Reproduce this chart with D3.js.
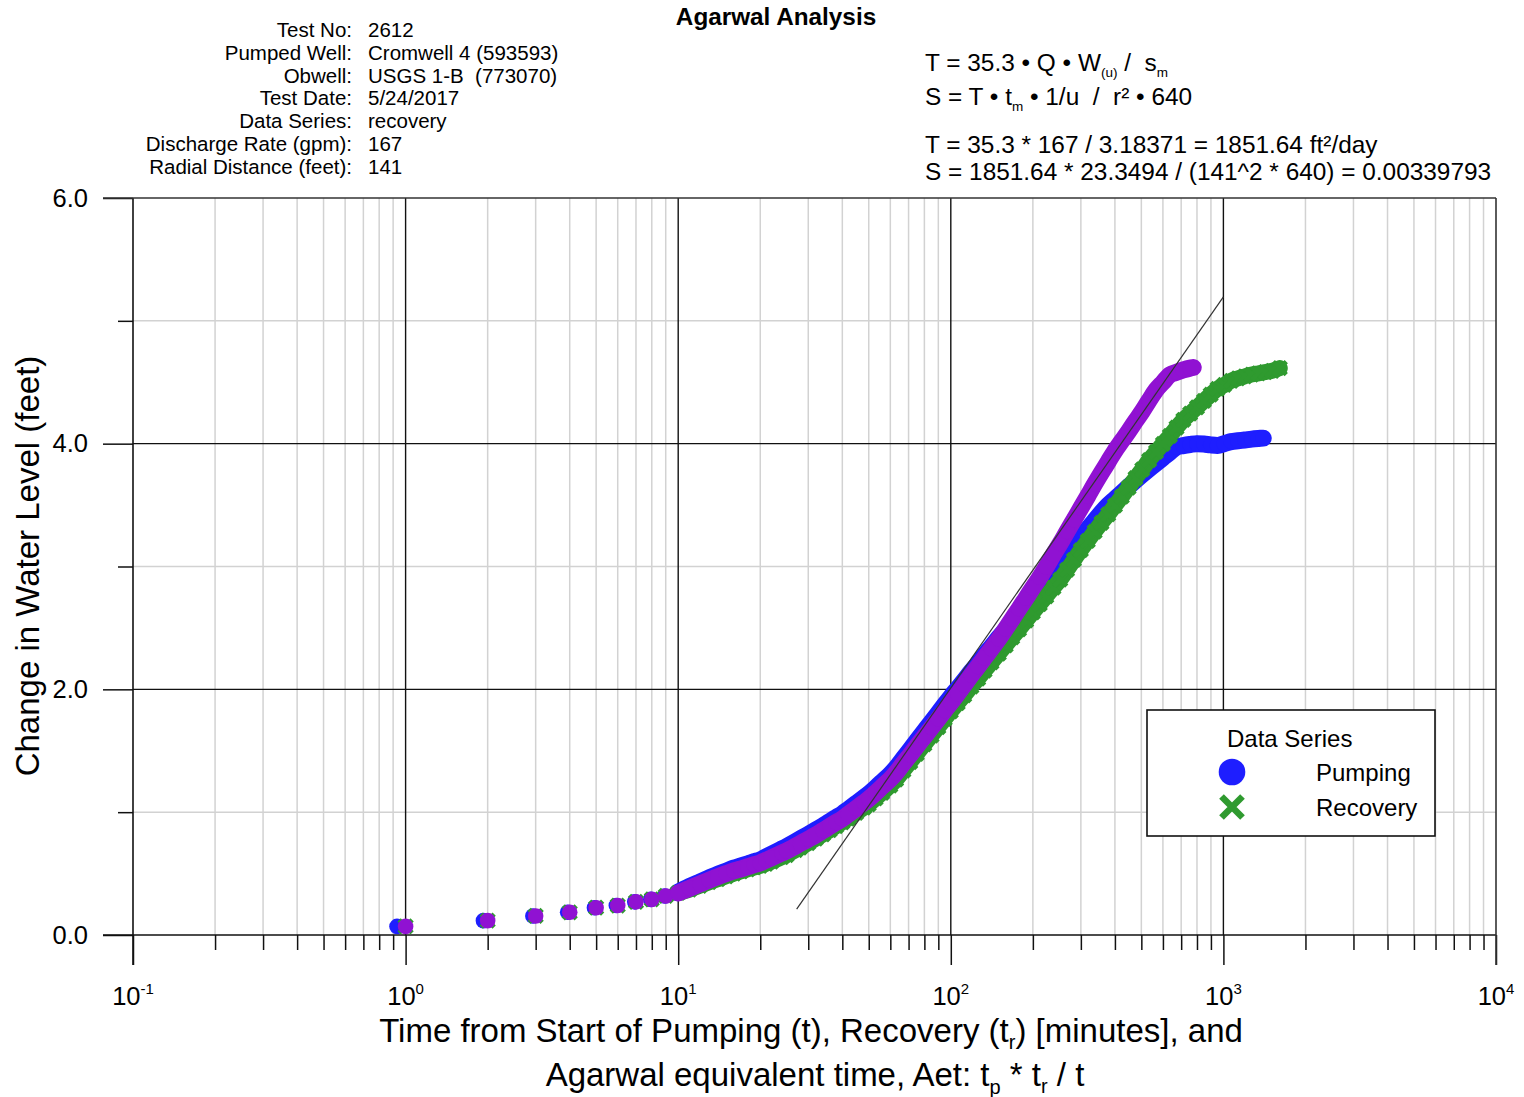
<!DOCTYPE html>
<html>
<head>
<meta charset="utf-8">
<title>Agarwal Analysis</title>
<script src="https://cdn.jsdelivr.net/npm/d3@7"></script>
<style>
  body { margin: 0; background: #fff; }
  svg { display: block; font-family: "Liberation Sans", Arial, Helvetica, sans-serif; }
  .pre { white-space: pre; }
</style>
</head>
<body>
<svg id="chart" width="1524" height="1097"></svg>
<script>
// ---------------- test information ----------------
const infoLabels = ["Test No:", "Pumped Well:", "Obwell:", "Test Date:", "Data Series:",
                    "Discharge Rate (gpm):", "Radial Distance (feet):"];
const infoValues = ["2612", "Cromwell 4 (593593)", "USGS 1-B  (773070)", "5/24/2017",
                    "recovery", "167", "141"];

// ---------------- straight-line fit (Cooper-Jacob style) ----------------
const slopePerLogCycle = 3.18371;   // ft of change per log cycle
const zeroInterceptTime = 23.3494;  // minutes, where the fitted line crosses 0
const fitLineRange = [27.2, 1000];  // minutes spanned by the drawn line

// readings become continuous (one per minute) from this time on
const continuousFrom = 9.9;

// ---------------- pumping phase: drawdown vs time ----------------
const pumpMinutes = [0.93, 1.93, 2.93, 3.93, 4.93, 5.93, 6.93, 7.93, 8.93, 9.93,
  11, 12, 13, 14, 15, 16, 17, 18, 19, 20, 21, 22, 24, 25, 27, 28, 30, 32, 34, 36, 38, 40,
  42, 45, 48, 50, 53, 56, 60, 63, 67, 71, 75, 80, 85, 90, 95, 100, 106, 112, 119, 126,
  133, 141, 150, 159, 168, 178, 189, 200, 212, 224, 238, 252, 267, 283, 300, 318, 337,
  357, 378, 400, 424, 449, 476, 504, 534, 566, 600, 636, 673, 713, 755, 800, 848, 898,
  951, 1008, 1068, 1131, 1198, 1270, 1345, 1400];
const pumpChange = [0.07, 0.117, 0.155, 0.185, 0.222, 0.24, 0.27, 0.29, 0.318, 0.345,
  0.395, 0.432, 0.465, 0.495, 0.52, 0.545, 0.563, 0.58, 0.597, 0.612, 0.636, 0.658, 0.701,
  0.721, 0.762, 0.782, 0.819, 0.855, 0.89, 0.925, 0.957, 0.987,
  1.022, 1.072, 1.119, 1.149, 1.199, 1.248, 1.31, 1.362, 1.439, 1.511, 1.581, 1.661,
  1.736, 1.808, 1.877, 1.94, 2.008, 2.074, 2.148, 2.214,
  2.28, 2.348, 2.422, 2.488, 2.554, 2.622, 2.694, 2.763, 2.832, 2.898, 2.971, 3.036,
  3.106, 3.173, 3.239, 3.305, 3.374,
  3.44, 3.50, 3.55, 3.60, 3.65, 3.70, 3.748, 3.795, 3.84, 3.885, 3.93, 3.972,
  3.984, 3.993, 4.0, 3.997, 3.99,
  3.986, 4.0, 4.017, 4.024, 4.03, 4.037, 4.042, 4.045];

// ---------------- recovery phase: residual change vs recovery time ----------------
const recoveryMinutes = [1, 2, 3, 4, 5, 6, 7, 8, 9, 10,
  11, 12, 13, 14, 15, 16, 17, 18, 19, 20, 21, 22, 24, 25, 27, 28, 30, 32, 34, 36, 38, 40,
  42, 45, 48, 50, 53, 56, 60, 63, 67, 71, 75, 80, 85, 90, 95, 100, 106, 112, 119, 126,
  133, 141, 150, 159, 168, 178, 189, 200, 212, 224, 238, 252, 267, 283, 300, 318, 337,
  357, 378, 400, 424, 449, 476, 504, 534, 566, 600, 636, 673, 713, 755, 800, 848, 898,
  951, 1008, 1068, 1131, 1198, 1270, 1345, 1425, 1510, 1610];
const recoveryChange = [0.07, 0.117, 0.155, 0.185, 0.222, 0.24, 0.27, 0.29, 0.318, 0.342,
  0.37, 0.40, 0.43, 0.455, 0.478, 0.50, 0.518, 0.535, 0.55, 0.562, 0.58, 0.598, 0.633,
  0.651, 0.692, 0.711, 0.748, 0.785, 0.82, 0.854, 0.887, 0.917,
  0.948, 0.994, 1.037, 1.064, 1.112, 1.158, 1.216, 1.265, 1.339, 1.408, 1.475, 1.552,
  1.624, 1.693, 1.759, 1.82, 1.887, 1.951, 2.023, 2.088,
  2.152, 2.219, 2.291, 2.358, 2.422, 2.489, 2.559, 2.626, 2.693, 2.757, 2.829, 2.893,
  2.972, 3.053, 3.134, 3.209, 3.284,
  3.355, 3.424, 3.496, 3.569, 3.643, 3.72, 3.791, 3.867, 3.933, 3.999, 4.064, 4.13,
  4.194, 4.245, 4.296, 4.348, 4.399,
  4.446, 4.479, 4.512, 4.532, 4.548, 4.563, 4.573, 4.583, 4.593, 4.615];

// ---------------- recovery plotted against Agarwal equivalent time ----------------
const agarwalMinutes = [1, 2, 3, 4, 5, 6, 7, 8, 9, 10,
  11, 12, 13, 14, 15, 16, 17, 18, 19, 20, 21, 22, 24, 25, 27, 28, 30, 32, 34, 36, 38, 40,
  42, 45, 48, 50, 53, 56, 60, 63, 67, 71, 75, 80, 85, 90, 95, 100, 106, 112, 119, 126,
  133, 141, 150, 159, 168, 178, 189, 200, 212, 224, 238, 252, 267, 283, 300, 318, 337,
  357, 378, 400, 424, 449, 476, 504, 534, 566, 600, 636, 673, 713, 755, 775];
const agarwalChange = [0.07, 0.117, 0.155, 0.185, 0.222, 0.24, 0.27, 0.29, 0.318, 0.342,
  0.38, 0.415, 0.447, 0.475, 0.50, 0.522, 0.539, 0.556, 0.572, 0.587, 0.609, 0.629, 0.667,
  0.685, 0.725, 0.744, 0.78, 0.815, 0.851, 0.885, 0.917, 0.947,
  0.982, 1.031, 1.078, 1.108, 1.158, 1.208, 1.269, 1.321, 1.398, 1.468, 1.536, 1.615,
  1.689, 1.76, 1.828, 1.89, 1.964, 2.035, 2.115, 2.186,
  2.257, 2.331, 2.411, 2.493, 2.573, 2.657, 2.744, 2.828, 2.912, 2.997, 3.098, 3.188,
  3.285, 3.381, 3.477, 3.573, 3.671,
  3.764, 3.853, 3.942, 4.022, 4.101, 4.184, 4.264, 4.352, 4.437, 4.499, 4.56, 4.581,
  4.60, 4.615, 4.62];

// ---------------- axis tick values ----------------
const yMajorTicks = [0, 2, 4, 6];
const yMinorTicks = [1, 3, 5];
const legendTitle = "Data Series";
const legendNames = ["Pumping", "Recovery"];

// ---------------- colours ----------------
const blue = "#1e1eff", green = "#2f9a2f", purple = "#9012d2";
const gridGray = "#d2d2d2";

const svg = d3.select("#chart");
const plot = { left: 133, right: 1496, top: 198, bottom: 935 };

const x = d3.scaleLog().domain([0.1, 10000]).range([plot.left, plot.right]);
const y = d3.scaleLinear().domain([0, 6]).range([plot.bottom, plot.top]);

const isDecade = v => Math.abs(Math.log10(v) - Math.round(Math.log10(v))) < 1e-9;
const allX = x.ticks();
const xMajor = allX.filter(isDecade);
const xMinor = allX.filter(v => !isDecade(v));

// ---------------- title & header ----------------
svg.append("text").attr("x", 776).attr("y", 25).attr("text-anchor", "middle")
  .attr("font-size", 24.3).attr("font-weight", "bold").text("Agarwal Analysis");

const info = svg.append("g").attr("font-size", 20.5);
infoLabels.forEach((lab, i) => {
  const by = 37 + i * 22.8;
  info.append("text").attr("class", "pre").attr("x", 352).attr("y", by)
    .attr("text-anchor", "end").text(lab);
  info.append("text").attr("class", "pre").attr("x", 368).attr("y", by).text(infoValues[i]);
});

// formulas, with subscript parts
const formulaLines = [
  { y: 71, parts: [["T = 35.3 \u2022 Q \u2022 W"], ["(u)", "sub"], [" /  s"], ["m", "sub"]] },
  { y: 105, parts: [["S = T \u2022 t"], ["m", "sub"], [" \u2022 1/u  /  r\u00b2 \u2022 640"]] },
  { y: 153, parts: [["T = 35.3 * 167 / 3.18371 = 1851.64 ft\u00b2/day"]] },
  { y: 180, parts: [["S = 1851.64 * 23.3494 / (141^2 * 640) = 0.00339793"]] }
];
const fg = svg.append("g").attr("font-size", 24.4);
formulaLines.forEach(line => {
  const t = fg.append("text").attr("class", "pre").attr("x", 925).attr("y", line.y);
  let shifted = 0;
  line.parts.forEach(([str, kind]) => {
    const sp = t.append("tspan").text(str);
    if (kind === "sub") {
      sp.attr("font-size", 13.5).attr("dy", 6 - shifted); shifted = 6;
    } else if (shifted) {
      sp.attr("dy", -shifted); shifted = 0;
    }
  });
});

// ---------------- grid ----------------
const grid = svg.append("g");
grid.selectAll(".vminor").data(xMinor).join("line")
  .attr("x1", d => x(d)).attr("x2", d => x(d))
  .attr("y1", plot.top).attr("y2", plot.bottom)
  .attr("stroke", gridGray).attr("stroke-width", 1.5);
grid.selectAll(".hminor").data(yMinorTicks).join("line")
  .attr("x1", plot.left).attr("x2", plot.right)
  .attr("y1", d => y(d)).attr("y2", d => y(d))
  .attr("stroke", gridGray).attr("stroke-width", 1.5);
grid.selectAll(".vmajor").data(xMajor.slice(1, -1)).join("line")
  .attr("x1", d => x(d)).attr("x2", d => x(d))
  .attr("y1", plot.top).attr("y2", plot.bottom)
  .attr("stroke", "#111").attr("stroke-width", 1.4);
grid.selectAll(".hmajor").data(yMajorTicks.slice(1, -1)).join("line")
  .attr("x1", plot.left).attr("x2", plot.right)
  .attr("y1", d => y(d)).attr("y2", d => y(d))
  .attr("stroke", "#111").attr("stroke-width", 1.4);

// ---------------- axes ----------------
const axisX = svg.append("g").attr("transform", `translate(0,${plot.bottom})`);
axisX.append("g").call(d3.axisBottom(x).tickValues(xMajor).tickSize(30).tickFormat(""))
  .call(g => g.select(".domain").remove());
axisX.append("g").call(d3.axisBottom(x).tickValues(xMinor).tickSize(15).tickFormat(""))
  .call(g => g.select(".domain").remove());
axisX.selectAll(".tick line").attr("stroke", "#111").attr("stroke-width", 1.5);

const axisY = svg.append("g").attr("transform", `translate(${plot.left},0)`);
axisY.append("g").call(d3.axisLeft(y).tickValues(yMajorTicks).tickSize(30)
    .tickPadding(15).tickFormat(d3.format(".1f")))
  .call(g => g.select(".domain").remove())
  .call(g => g.selectAll("text").attr("font-size", 25.5).attr("fill", "#000")
    .attr("font-family", "Liberation Sans, Arial, sans-serif"));
axisY.append("g").call(d3.axisLeft(y).tickValues(yMinorTicks).tickSize(15).tickFormat(""))
  .call(g => g.select(".domain").remove());
axisY.selectAll(".tick line").attr("stroke", "#111").attr("stroke-width", 1.5);

// axis frame lines
const frame = svg.append("g").attr("fill", "none");
frame.append("line").attr("x1", plot.left - 30).attr("x2", plot.right)
  .attr("y1", plot.bottom).attr("y2", plot.bottom).attr("stroke", "#111").attr("stroke-width", 1.6);
frame.append("line").attr("x1", plot.left).attr("x2", plot.left)
  .attr("y1", plot.top).attr("y2", plot.bottom + 30).attr("stroke", "#111").attr("stroke-width", 1.6);
frame.append("line").attr("x1", plot.left - 30).attr("x2", plot.right)
  .attr("y1", plot.top).attr("y2", plot.top).attr("stroke", "#333").attr("stroke-width", 1.6);
frame.append("line").attr("x1", plot.right).attr("x2", plot.right)
  .attr("y1", plot.top).attr("y2", plot.bottom + 30).attr("stroke", "#333").attr("stroke-width", 1.6);

// decade labels as 10^n
const xl = svg.append("g").attr("font-size", 25.5).attr("text-anchor", "middle");
xMajor.forEach(v => {
  const t = xl.append("text").attr("x", x(v)).attr("y", 1005);
  t.append("tspan").text("10");
  t.append("tspan").attr("font-size", 15).attr("dy", -11).text(String(Math.round(Math.log10(v))));
});

// axis titles
svg.append("text").attr("transform", "translate(39,566) rotate(-90)")
  .attr("text-anchor", "middle").attr("font-size", 33).text("Change in Water Level (feet)");

const xt1 = svg.append("text").attr("x", 811).attr("y", 1042).attr("text-anchor", "middle")
  .attr("font-size", 33).attr("class", "pre");
xt1.append("tspan").text("Time from Start of Pumping (t), Recovery (t");
xt1.append("tspan").attr("font-size", 20).attr("dy", 7).text("r");
xt1.append("tspan").attr("dy", -7).text(") [minutes], and");

const xt2 = svg.append("text").attr("x", 815).attr("y", 1086).attr("text-anchor", "middle")
  .attr("font-size", 33).attr("class", "pre");
xt2.append("tspan").text("Agarwal equivalent time, Aet: t");
xt2.append("tspan").attr("font-size", 20).attr("dy", 8).text("p");
xt2.append("tspan").attr("dy", -8).text(" * t");
xt2.append("tspan").attr("font-size", 20).attr("dy", 7).text("r");
xt2.append("tspan").attr("dy", -7).text(" / t");

// ---------------- data ----------------
const zip = (ts, vs) => ts.map((t, i) => ({ t, v: vs[i] }));
const pumping = zip(pumpMinutes, pumpChange);
const recovery = zip(recoveryMinutes, recoveryChange);
const agarwal = zip(agarwalMinutes, agarwalChange);

// once readings arrive every minute their markers merge into a solid band
const band = d3.line().curve(d3.curveMonotoneX).x(d => x(d.t)).y(d => y(d.v));
const drawBand = (g, data, color, width) =>
  g.append("path").datum(data.filter(d => d.t >= continuousFrom)).attr("d", band)
    .attr("fill", "none").attr("stroke", color).attr("stroke-width", width)
    .attr("stroke-linecap", "round").attr("stroke-linejoin", "round");

const marks = svg.append("g");
const gPump = marks.append("g");
drawBand(gPump, pumping, blue, 17);
gPump.selectAll("circle").data(pumping).join("circle")
  .attr("cx", d => x(d.t)).attr("cy", d => y(d.v)).attr("r", 7.8).attr("fill", blue);

const xPath = a => `M${-a},${-a}L${a},${a}M${-a},${a}L${a},${-a}`;
const gRec = marks.append("g");
drawBand(gRec, recovery, green, 16);
gRec.selectAll("path.mk").data(recovery).join("path").attr("class", "mk")
  .attr("transform", d => `translate(${x(d.t)},${y(d.v)})`)
  .attr("d", xPath(6.5)).attr("stroke", green).attr("stroke-width", 4.6).attr("fill", "none");

const gAg = marks.append("g");
drawBand(gAg, agarwal, purple, 17);
gAg.selectAll("circle").data(agarwal).join("circle")
  .attr("cx", d => x(d.t)).attr("cy", d => y(d.v)).attr("r", 7.8).attr("fill", purple);

// fitted straight line on the semi-log plot
const fitLevel = t => slopePerLogCycle * Math.log10(t / zeroInterceptTime);
svg.append("line")
  .attr("x1", x(fitLineRange[0])).attr("y1", y(fitLevel(fitLineRange[0])))
  .attr("x2", x(fitLineRange[1])).attr("y2", y(fitLevel(fitLineRange[1])))
  .attr("stroke", "#333").attr("stroke-width", 1.2);

// ---------------- legend ----------------
const lg = svg.append("g");
lg.append("rect").attr("x", 1147).attr("y", 710).attr("width", 288).attr("height", 126)
  .attr("fill", "#fff").attr("stroke", "#111").attr("stroke-width", 1.6);
lg.append("text").attr("x", 1227).attr("y", 747).attr("font-size", 24).text(legendTitle);
lg.append("circle").attr("cx", 1232).attr("cy", 772).attr("r", 13.3).attr("fill", blue);
lg.append("path").attr("transform", "translate(1232,807)").attr("d", xPath(10.5))
  .attr("stroke", green).attr("stroke-width", 6.6).attr("fill", "none");
legendNames.forEach((n, i) => {
  lg.append("text").attr("x", 1316).attr("y", 781 + i * 35).attr("font-size", 24).text(n);
});
</script>
</body>
</html>
